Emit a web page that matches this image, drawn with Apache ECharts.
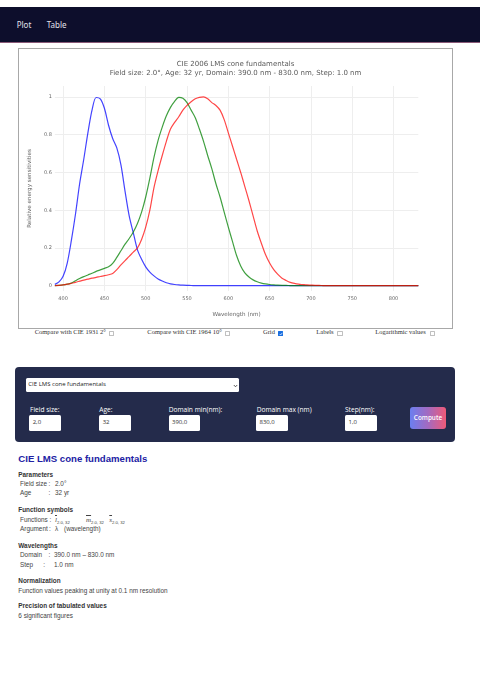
<!DOCTYPE html>
<html>
<head>
<meta charset="utf-8">
<title>CIE LMS cone fundamentals</title>
<script src="https://cdn.jsdelivr.net/npm/echarts@6/dist/echarts.min.js"></script>
<style>
  html, body { margin: 0; padding: 0; background: #fff; width: 480px; height: 684px; overflow: hidden; }
  .a { position: absolute; white-space: nowrap; line-height: 10px; height: 10px; }
  #nav { position: absolute; left: 0; top: 7px; width: 480px; height: 35px; background: #0d0e2c; border-bottom: 1px solid #8a5a78; }
  .nav { font: 8px "Noto Sans", sans-serif; color: #e2e2ea; }
  #frame { position: absolute; left: 18px; top: 48px; width: 433px; height: 279px; border: 1px solid #a8a8a8; }
  #chart { position: absolute; left: 19px; top: 49px; width: 433px; height: 279px; }
  .cb { font: 6.5px "Liberation Serif", serif; color: #333; }
  .box { position: absolute; top: 330.8px; width: 3.4px; height: 3.4px; border: 0.6px solid #c0c0c0; background: #fff; border-radius: 0.6px; }
  .box.on { background: #1a6fe0; border-color: #1a6fe0; }
  #panel { position: absolute; left: 15px; top: 367.3px; width: 440px; height: 74.4px; background: #242b4b; border-radius: 4px; }
  #select { position: absolute; left: 25.7px; top: 378.3px; width: 213px; height: 14px; background: #fff; border-radius: 1.5px; }
  .sel { font: 6px "Open Sans", sans-serif; color: #222; }
  .lbl { font: 6.6px "Open Sans", sans-serif; color: #fff; }
  .inp { position: absolute; top: 415px; width: 31.5px; height: 15.7px; background: #fff; border-radius: 1.5px; }
  .val { font: 6px "Open Sans", sans-serif; color: #333; }
  #compute { position: absolute; left: 410px; top: 407.3px; width: 36px; height: 22px; border-radius: 3px;
             background: linear-gradient(90deg, #6b7ff0 0%, #a36ac0 50%, #ef5a78 100%);
             font: 600 6.4px "Open Sans", sans-serif; color: #fff; text-align: center; line-height: 22px; }
  .h1 { font: bold 9.6px "Liberation Sans", Arial, sans-serif; color: #2121a3; line-height: 12px; height: 12px; }
  .h2 { font: bold 6.4px "Liberation Sans", Arial, sans-serif; color: #333; }
  .p { font: 6.4px "Liberation Sans", Arial, sans-serif; color: #444; }
  .sym { font: italic 7px "Liberation Serif", serif; text-decoration: overline; }
  .sub { font: 4.2px "Liberation Sans", Arial, sans-serif; position: relative; top: 1.6px; }
</style>
</head>
<body>
<div id="nav">
</div>
<div class="a nav" style="left:16.7px;top:19.3px;">Plot</div>
<div class="a nav" style="left:46.7px;top:19.3px;">Table</div>

<div id="frame"></div>
<div id="chart"></div>

<div class="a cb" style="left:34.7px;top:328.3px;">Compare with CIE 1931 2°</div>
<div class="box" style="left:108.7px;"></div>
<div class="a cb" style="left:147.3px;top:328.3px;">Compare with CIE 1964 10°</div>
<div class="box" style="left:224.7px;"></div>
<div class="a cb" style="left:263px;top:328.3px;">Grid</div>
<div class="box on" style="left:278px;"><svg width="4" height="4" viewBox="0 0 4 4" style="position:absolute;left:0;top:0"><polyline points="0.7,2 1.6,3 3.3,0.9" fill="none" stroke="#fff" stroke-width="0.7"/></svg></div>
<div class="a cb" style="left:316.3px;top:328.3px;">Labels</div>
<div class="box" style="left:337.3px;"></div>
<div class="a cb" style="left:375.3px;top:328.3px;">Logarithmic values</div>
<div class="box" style="left:429.7px;"></div>

<div id="panel"></div>
<div id="select"></div>
<div class="a sel" style="left:28.3px;top:380.3px;">CIE LMS cone fundamentals</div>
<svg style="position:absolute;left:232.5px;top:383.5px" width="5" height="4" viewBox="0 0 5 4"><polyline points="0.8,1 2.5,2.8 4.2,1" fill="none" stroke="#333" stroke-width="0.8"/></svg>

<div class="a lbl" style="left:30px;top:405px;">Field size:</div>
<div class="a lbl" style="left:99.3px;top:405px;">Age:</div>
<div class="a lbl" style="left:168.7px;top:405px;">Domain min(nm):</div>
<div class="a lbl" style="left:256.7px;top:405px;">Domain max (nm)</div>
<div class="a lbl" style="left:345px;top:405px;">Step(nm):</div>

<div class="inp" style="left:29px;"></div>
<div class="inp" style="left:99.3px;"></div>
<div class="inp" style="left:168.7px;"></div>
<div class="inp" style="left:256px;"></div>
<div class="inp" style="left:345px;"></div>
<div class="a val" style="left:32.7px;top:418.3px;">2,0</div>
<div class="a val" style="left:102.7px;top:418.3px;">32</div>
<div class="a val" style="left:172px;top:418.3px;">390,0</div>
<div class="a val" style="left:259.5px;top:418.3px;">830,0</div>
<div class="a val" style="left:348.5px;top:418.3px;">1,0</div>
<div id="compute">Compute</div>

<div class="a h1" style="left:18.3px;top:453px;">CIE LMS cone fundamentals</div>

<div class="a h2" style="left:18.3px;top:471px;">Parameters</div>
<div class="a p" style="left:20px;top:480px;">Field size</div>
<div class="a p" style="left:48.5px;top:480px;">:</div>
<div class="a p" style="left:55px;top:480px;">2.0°</div>
<div class="a p" style="left:20px;top:489px;">Age</div>
<div class="a p" style="left:48.5px;top:489px;">:</div>
<div class="a p" style="left:55px;top:489px;">32 yr</div>

<div class="a h2" style="left:18.3px;top:505.7px;">Function symbols</div>
<div class="a p" style="left:20px;top:516px;">Functions</div>
<div class="a p" style="left:49.5px;top:516px;">:</div>
<div class="a p" style="left:55px;top:516px;"><span class="sym">l</span><span class="sub">2.0, 32</span></div>
<div class="a p" style="left:86px;top:516px;"><span class="sym">m</span><span class="sub">2.0, 32</span></div>
<div class="a p" style="left:109.3px;top:516px;"><span class="sym">s</span><span class="sub">2.0, 32</span></div>
<div class="a p" style="left:20px;top:525.3px;">Argument</div>
<div class="a p" style="left:49px;top:525.3px;">:</div>
<div class="a p" style="left:55px;top:525.3px;">λ</div>
<div class="a p" style="left:64px;top:525.3px;">(wavelength)</div>

<div class="a h2" style="left:18.3px;top:542.3px;">Wavelengths</div>
<div class="a p" style="left:20px;top:551.3px;">Domain</div>
<div class="a p" style="left:48.5px;top:551.3px;">:</div>
<div class="a p" style="left:54px;top:551.3px;">390.0 nm – 830.0 nm</div>
<div class="a p" style="left:20px;top:560.7px;">Step</div>
<div class="a p" style="left:43.3px;top:560.7px;">:</div>
<div class="a p" style="left:54px;top:560.7px;">1.0 nm</div>

<div class="a h2" style="left:18.3px;top:577px;">Normalization</div>
<div class="a p" style="left:18.3px;top:586.7px;">Function values peaking at unity at 0.1 nm resolution</div>

<div class="a h2" style="left:18.3px;top:602.3px;">Precision of tabulated values</div>
<div class="a p" style="left:18.3px;top:611.7px;">6 significant figures</div>

<script>
// Wavelength grid (nm), 5 nm spacing over the computed domain
const wavelengths = [
  390, 395, 400, 405, 410, 415, 420, 425, 430, 435,
  440, 445, 450, 455, 460, 465, 470, 475, 480, 485,
  490, 495, 500, 505, 510, 515, 520, 525, 530, 535,
  540, 545, 550, 555, 560, 565, 570, 575, 580, 585,
  590, 595, 600, 605, 610, 615, 620, 625, 630, 635,
  640, 645, 650, 655, 660, 665, 670, 675, 680, 685,
  690, 695, 700, 705, 710, 715, 720, 725, 730, 735,
  740, 745, 750, 755, 760, 765, 770, 775, 780, 785,
  790, 795, 800, 805, 810, 815, 820, 825, 830
];

// L-cone (long wavelength) relative energy sensitivity
const lCone = [
  0.001, 0.002, 0.004, 0.008, 0.013, 0.018, 0.024, 0.030, 0.035, 0.040,
  0.044, 0.049, 0.053, 0.058, 0.065, 0.085, 0.110, 0.133, 0.155, 0.178,
  0.200, 0.245, 0.310, 0.400, 0.520, 0.610, 0.690, 0.765, 0.830, 0.865,
  0.895, 0.930, 0.955, 0.975, 0.990, 0.998, 1.000, 0.990, 0.970, 0.955,
  0.930, 0.880, 0.810, 0.740, 0.670, 0.600, 0.525, 0.450, 0.370, 0.290,
  0.225, 0.165, 0.120, 0.085, 0.060, 0.040, 0.028, 0.018, 0.012, 0.008,
  0.006, 0.004, 0.003, 0.002, 0.0015, 0.001, 0.0008, 0.0006, 0.0004, 0.0003,
  0.0002, 0.00015, 0.0001, 0.00008, 0.00006, 0.00005, 0.00004, 0.00003, 0.00002, 0.00002,
  0.00001, 0.00001, 0.00001, 0.00001, 0, 0, 0, 0, 0
];

// M-cone (medium wavelength) relative energy sensitivity
const mCone = [
  0.001, 0.002, 0.004, 0.008, 0.014, 0.026, 0.038, 0.048, 0.057, 0.066,
  0.076, 0.084, 0.092, 0.100, 0.118, 0.150, 0.185, 0.220, 0.250, 0.285,
  0.330, 0.390, 0.470, 0.570, 0.680, 0.770, 0.840, 0.900, 0.945, 0.977,
  0.998, 0.993, 0.970, 0.930, 0.890, 0.830, 0.765, 0.690, 0.620, 0.540,
  0.470, 0.390, 0.310, 0.235, 0.160, 0.105, 0.068, 0.046, 0.031, 0.021,
  0.014, 0.0095, 0.0065, 0.0045, 0.003, 0.002, 0.0014, 0.001, 0.0007, 0.0005,
  0.0003, 0.0002, 0.00015, 0.0001, 0.0001, 0.00007, 0.00005, 0.00004, 0.00003, 0.00002,
  0.00002, 0.00001, 0, 0, 0, 0, 0, 0, 0, 0,
  0, 0, 0, 0, 0, 0, 0, 0, 0
];

// S-cone (short wavelength) relative energy sensitivity
const sCone = [
  0.007, 0.020, 0.050, 0.120, 0.240, 0.380, 0.540, 0.670, 0.810, 0.930,
  0.997, 0.990, 0.940, 0.850, 0.780, 0.730, 0.640, 0.500, 0.370, 0.280,
  0.190, 0.140, 0.100, 0.072, 0.052, 0.036, 0.025, 0.016, 0.010, 0.0065,
  0.0042, 0.0027, 0.0017, 0.0011, 0.0007, 0.0004, 0.0003, 0.0002, 0.0001, 0.0001,
  0, 0, 0, 0, 0, 0, 0, 0, 0, 0,
  0, 0, 0, 0, 0, 0, 0, 0, 0, 0,
  0, 0, 0, 0, 0, 0, 0, 0, 0, 0,
  0, 0, 0, 0, 0, 0, 0, 0, 0, 0,
  0, 0, 0, 0, 0, 0, 0, 0, 0
];

const xTicks = [400, 450, 500, 550, 600, 650, 700, 750, 800];
const yTicks = [0, 0.2, 0.4, 0.6, 0.8, 1];

const plotTitle = 'CIE 2006 LMS cone fundamentals';
const plotSubtitle = 'Field size: 2.0°, Age: 32 yr, Domain: 390.0 nm - 830.0 nm, Step: 1.0 nm';

const toPairs = vals => wavelengths.map((w, i) => [w, vals[i]]);
const baseFont = '"DejaVu Sans", Verdana, sans-serif';

const chart = echarts.init(document.getElementById('chart'), null, { renderer: 'canvas' });

function coneSeries(name, vals, color) {
  return {
    name: name,
    type: 'line',
    data: toPairs(vals),
    showSymbol: false,
    smooth: 0.3,
    lineStyle: { color: color, width: 1.2 },
    itemStyle: { color: color },
    emphasis: { disabled: true }
  };
}

chart.setOption({
  animation: false,
  backgroundColor: '#fff',
  title: {
    text: plotTitle,
    subtext: plotSubtitle,
    left: 'center',
    top: 10.5,
    itemGap: 0,
    padding: 0,
    textStyle: { fontFamily: baseFont, fontSize: 7, fontWeight: 'normal', color: '#5a5a5a', lineHeight: 9 },
    subtextStyle: { fontFamily: baseFont, fontSize: 7, color: '#5a5a5a', lineHeight: 9 }
  },
  grid: { left: 32.7, right: 33.7, top: 37, bottom: 37 },
  xAxis: {
    type: 'value',
    min: 390,
    max: 830,
    name: 'Wavelength (nm)',
    nameLocation: 'middle',
    nameGap: 21,
    nameTextStyle: { fontFamily: baseFont, fontSize: 5.6, color: '#666' },
    axisLine: { show: false },
    axisTick: { show: false, customValues: xTicks },
    axisLabel: { customValues: xTicks, fontFamily: baseFont, fontSize: 5, color: '#666', margin: 5.5 },
    splitLine: { show: true, lineStyle: { color: '#eeeeee', width: 1 } }
  },
  yAxis: {
    type: 'value',
    min: -0.028,
    max: 1.058,
    name: 'Relative energy sensitivities',
    nameLocation: 'middle',
    nameGap: 15,
    nameTextStyle: { fontFamily: baseFont, fontSize: 5.6, color: '#666' },
    axisLine: { show: false },
    axisTick: { show: false, customValues: yTicks },
    axisLabel: { customValues: yTicks, fontFamily: baseFont, fontSize: 5, color: '#666', margin: 3,
                 formatter: v => String(v) },
    splitLine: { show: true, lineStyle: { color: '#eeeeee', width: 1 } }
  },
  series: [
    coneSeries('S', sCone, 'rgba(20,20,255,0.8)'),
    coneSeries('M', mCone, 'rgba(0,128,0,0.75)'),
    coneSeries('L', lCone, 'rgba(255,0,0,0.72)')
  ]
});
</script>
</body>
</html>
